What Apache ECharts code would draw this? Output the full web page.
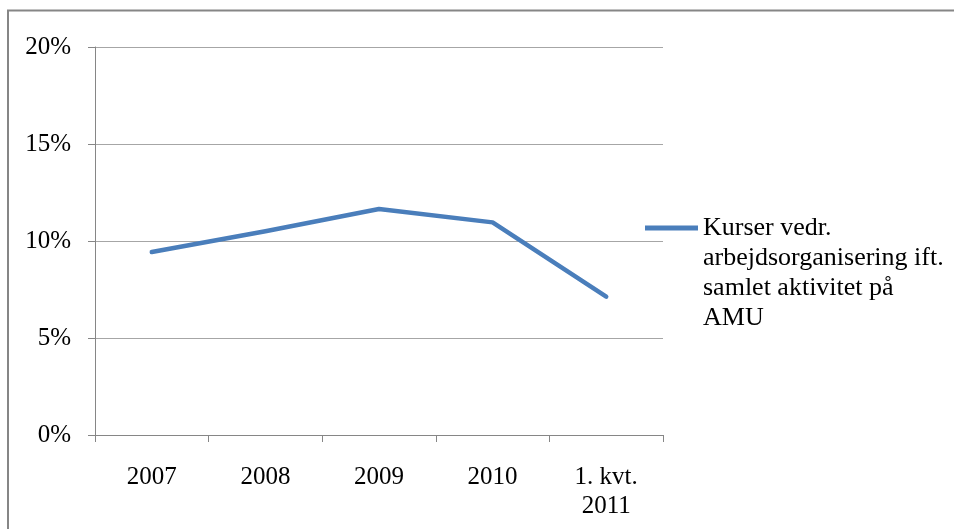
<!DOCTYPE html>
<html>
<head>
<meta charset="utf-8">
<script src="https://cdn.jsdelivr.net/npm/echarts@6/dist/echarts.min.js"></script>
<style>
html,body{margin:0;padding:0;background:#fff;}
#c{width:954px;height:529px;}
</style>
</head>
<body>
<div id="c"></div>
<script>
const categories = ['2007', '2008', '2009', '2010', '1. kvt.\n2011'];
const seriesName = 'Kurser vedr.\narbejdsorganisering ift.\nsamlet aktivitet på\nAMU';
const values = [9.43, 10.5, 11.65, 10.96, 7.13];
const yTicks = [0, 5, 10, 15, 20];

const chart = echarts.init(document.getElementById('c'), null, {renderer: 'canvas'});
const font = '"Liberation Serif", "Times New Roman", serif';
chart.setOption({
  animation: false,
  backgroundColor: '#ffffff',
  graphic: [{
    type: 'rect',
    shape: {x: 8, y: 10.5, width: 1000, height: 600},
    style: {fill: 'none', stroke: '#868686', lineWidth: 2},
    silent: true
  }],
  grid: {left: 95, right: 291, top: 47, bottom: 94},
  legend: {
    orient: 'vertical',
    left: 645,
    top: 123,
    padding: 0,
    itemWidth: 53,
    itemHeight: 5,
    itemGap: 0,
    icon: 'rect',
    formatter: function (name) { return '\n\n\n' + name; },
    textStyle: {
      fontFamily: font,
      fontSize: 26,
      color: '#000',
      lineHeight: 30
    },
    data: [seriesName]
  },
  xAxis: {
    type: 'category',
    data: categories,
    boundaryGap: true,
    axisLine: {lineStyle: {color: '#868686', width: 1}},
    axisTick: {show: true, length: 7, lineStyle: {color: '#868686'}},
    axisLabel: {fontFamily: font, fontSize: 25, color: '#000', margin: 28, lineHeight: 29}
  },
  yAxis: {
    type: 'value',
    min: yTicks[0],
    max: yTicks[yTicks.length - 1],
    interval: 5,
    axisLine: {show: true, lineStyle: {color: '#868686', width: 1}},
    axisTick: {show: true, length: 7, lineStyle: {color: '#868686'}},
    splitLine: {lineStyle: {color: '#a6a6a6', width: 1}},
    axisLabel: {fontFamily: font, fontSize: 25, color: '#000', margin: 24, formatter: '{value}%'}
  },
  series: [{
    name: seriesName,
    type: 'line',
    data: values,
    showSymbol: false,
    symbol: 'none',
    lineStyle: {color: '#4a7ebb', width: 4.5, cap: 'round', join: 'round'},
    itemStyle: {color: '#4a7ebb'}
  }]
});
</script>
</body>
</html>
